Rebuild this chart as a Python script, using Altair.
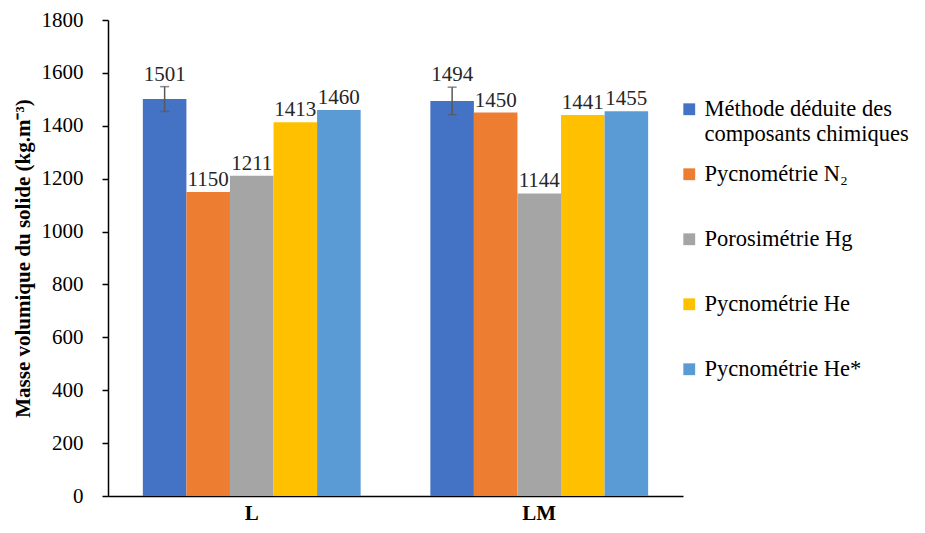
import altair as alt
import pandas as pd

groups = ["L", "LM"]
series = ["Méthode déduite des composants chimiques", "Pycnométrie N₂",
          "Porosimétrie Hg", "Pycnométrie He", "Pycnométrie He*"]
values_L = [1501, 1150, 1211, 1413, 1460]
values_LM = [1494, 1450, 1144, 1441, 1455]
errors_L = [47, 0, 0, 0, 0]
errors_LM = [52, 0, 0, 0, 0]
colors = ["#4472C4", "#ED7D31", "#A5A5A5", "#FFC000", "#5B9BD5"]

rows = []
for g, vals, errs in [("L", values_L, errors_L), ("LM", values_LM, errors_LM)]:
    for i, (s, v, e) in enumerate(zip(series, vals, errs)):
        rows.append({"group": g, "series": s, "order": i, "value": v, "err": e,
                     "lo": v - e, "hi": v + e, "labelpos": v + e})
df = pd.DataFrame(rows)

FONT = "Liberation Serif"

x = alt.X("group:N", sort=groups, title=None,
          scale=alt.Scale(paddingInner=0, paddingOuter=0),
          axis=alt.Axis(labelFont=FONT, labelFontSize=21, labelFontWeight="bold",
                        labelColor="black", labelAngle=0, ticks=False,
                        domainColor="black", domainWidth=1.5, labelPadding=6))
xoff = alt.XOffset("series:N", sort=series,
                   scale=alt.Scale(paddingOuter=0.8, paddingInner=0))
y = alt.Y("value:Q", title="Masse volumique du solide (kg.m⁻³)",
          scale=alt.Scale(domain=[0, 1800], nice=False),
          axis=alt.Axis(values=list(range(0, 1801, 200)), grid=False, format="d",
                        labelFont=FONT, labelFontSize=21, labelColor="black",
                        titleFont=FONT, titleFontSize=21, titleFontWeight="bold",
                        titleColor="black", domainColor="black", domainWidth=1.5,
                        tickColor="black", tickSize=6, tickWidth=1.5,
                        labelPadding=19, titlePadding=8))

label_expr = ("datum.label == 'Méthode déduite des composants chimiques' ? "
              "['Méthode déduite des', 'composants chimiques'] : [datum.label, '']")

bars = alt.Chart(df).mark_bar().encode(
    x=x, xOffset=xoff, y=y,
    color=alt.Color("series:N", sort=series,
                    scale=alt.Scale(domain=series, range=colors),
                    legend=alt.Legend(title=None, labelFont=FONT, labelFontSize=22.5,
                                      labelColor="black", symbolType="square",
                                      symbolSize=140, symbolStrokeWidth=0,
                                      orient="none", legendX=570, legendY=78,
                                      padding=0, rowPadding=17,
                                      labelOffset=4, labelLimit=400,
                                      labelExpr=label_expr)),
)

edf = df[df["err"] > 0]
rule = alt.Chart(edf).mark_rule(color="#595959", strokeWidth=1.5).encode(
    x=x, xOffset=xoff, y="lo:Q", y2="hi:Q")
caps_lo = alt.Chart(edf).mark_tick(color="#595959", thickness=1.5, size=9, orient="horizontal").encode(
    x=x, xOffset=xoff, y="lo:Q")
caps_hi = alt.Chart(edf).mark_tick(color="#595959", thickness=1.5, size=9, orient="horizontal").encode(
    x=x, xOffset=xoff, y="hi:Q")

labels = alt.Chart(df).mark_text(font=FONT, fontSize=21, color="#262626",
                                 baseline="bottom", dy=-2).encode(
    x=x, xOffset=xoff, y="labelpos:Q", text="value:Q")

chart = alt.layer(bars, rule, caps_lo, caps_hi, labels).properties(
    width=575, height=476, background="white",
    autosize=alt.AutoSizeParams(type="none"),
    padding={"left": 100, "top": 12, "right": 234, "bottom": 29}
).configure_view(stroke=None)

chart.save("out.html", embed_options={"renderer": "svg", "actions": False})
